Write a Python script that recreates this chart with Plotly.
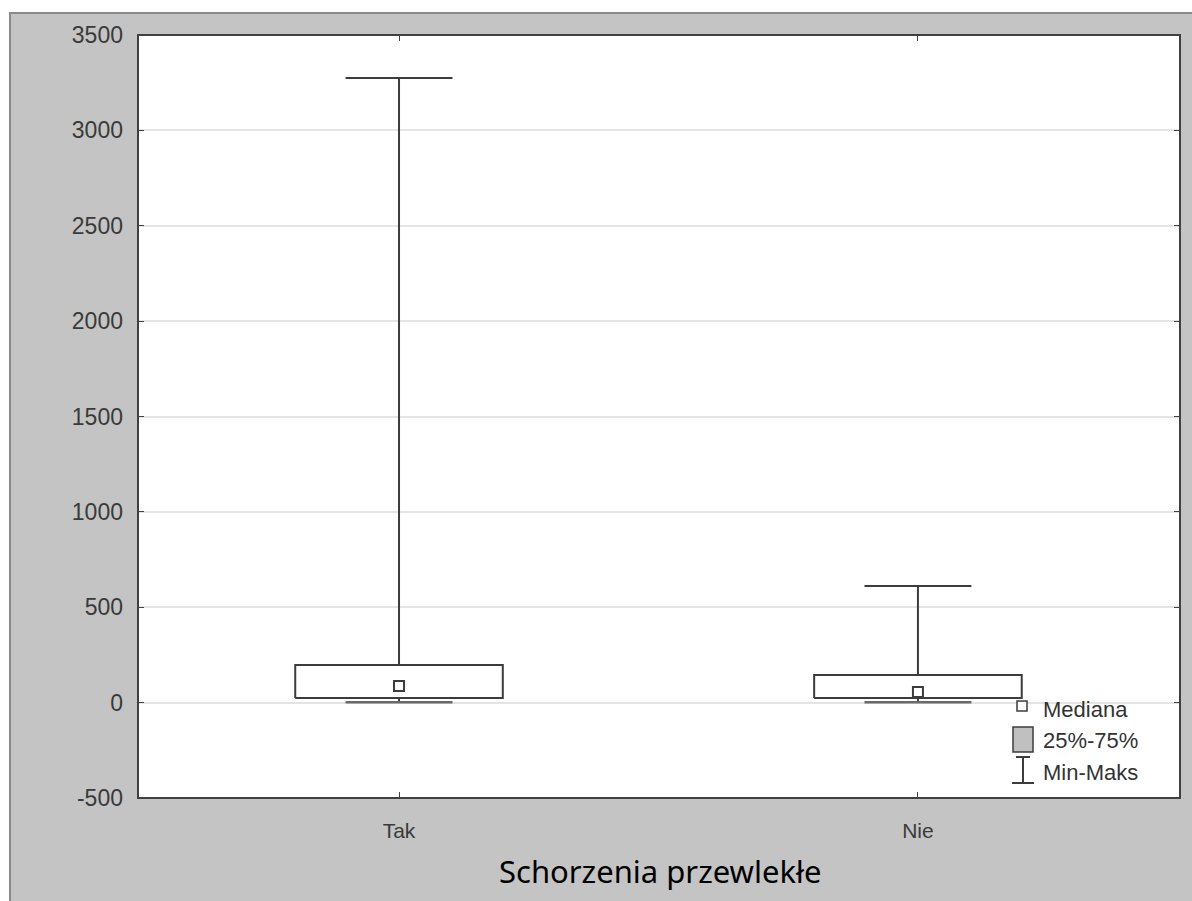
import plotly.graph_objects as go

categories = ["Tak", "Nie"]
mins = [2, 2]
q1 = [24, 24]
medians = [87, 56]
q3 = [197, 145]
maxs = [3275, 611]

yticks = [-500, 0, 500, 1000, 1500, 2000, 2500, 3000, 3500]
ytick_text = ["-500", "0", "500", "1000", "1500", "2000", "2500", "3000", "3500"]
legend_labels = ["Mediana", "25%-75%", "Min-Maks"]

W, H = 1192, 901
L, R, T, B = 138, 12, 35, 103
pw, ph = W - L - R, H - T - B

def px(xpix):
    return (xpix - L) / pw

def py(ypix):
    return (H - B - ypix) / ph

line_col = "#3c3c3c"
box_half = 0.2
cap_half = 0.103

fig = go.Figure()
for i, c in enumerate(categories):
    fig.add_trace(go.Scatter(x=[i, i], y=[q3[i], maxs[i]], mode="lines",
                             line=dict(color=line_col, width=2), showlegend=False, hoverinfo="skip"))
    fig.add_trace(go.Scatter(x=[i, i], y=[mins[i], q1[i]], mode="lines",
                             line=dict(color=line_col, width=2), showlegend=False, hoverinfo="skip"))
    fig.add_trace(go.Scatter(x=[i - cap_half, i + cap_half], y=[maxs[i], maxs[i]], mode="lines",
                             line=dict(color=line_col, width=2), showlegend=False, hoverinfo="skip"))
    fig.add_trace(go.Scatter(x=[i - cap_half, i + cap_half], y=[mins[i], mins[i]], mode="lines",
                             line=dict(color="#6a6a6a", width=2.5), showlegend=False, hoverinfo="skip"))
    fig.add_trace(go.Scatter(x=[i - box_half, i + box_half, i + box_half, i - box_half, i - box_half],
                             y=[q1[i], q1[i], q3[i], q3[i], q1[i]], mode="lines", fill="toself",
                             fillcolor="white", line=dict(color=line_col, width=2),
                             showlegend=False, hoverinfo="skip"))
    fig.add_trace(go.Scatter(x=[i], y=[medians[i]], mode="markers",
                             marker=dict(symbol="square-open", size=10, color=line_col, line=dict(width=2)),
                             showlegend=False, hoverinfo="skip"))

shapes = []
shapes.append(dict(type="rect", xref="paper", yref="paper", x0=px(10), x1=px(1200), y0=py(910), y1=py(13),
                   fillcolor="#c4c4c4", line=dict(color="#8a8a8a", width=2), layer="below"))
shapes.append(dict(type="rect", xref="paper", yref="paper", x0=0, x1=1, y0=0, y1=1,
                   fillcolor="white", line=dict(width=0), layer="below"))
shapes.append(dict(type="rect", xref="paper", yref="paper", x0=px(1017), x1=px(1027), y0=py(711), y1=py(701),
                   fillcolor="white", line=dict(color=line_col, width=1.5)))
shapes.append(dict(type="rect", xref="paper", yref="paper", x0=px(1013), x1=px(1033), y0=py(752), y1=py(727),
                   fillcolor="#c0c0c0", line=dict(color=line_col, width=1.5)))
shapes.append(dict(type="line", xref="paper", yref="paper", x0=px(1016), x1=px(1030), y0=py(757), y1=py(757),
                   line=dict(color=line_col, width=2)))
shapes.append(dict(type="line", xref="paper", yref="paper", x0=px(1023), x1=px(1023), y0=py(757), y1=py(783),
                   line=dict(color=line_col, width=2)))
shapes.append(dict(type="line", xref="paper", yref="paper", x0=px(1012), x1=px(1034), y0=py(783), y1=py(783),
                   line=dict(color=line_col, width=2)))
shapes.append(dict(type="rect", xref="paper", yref="paper", x0=0, x1=1, y0=0, y1=1,
                   line=dict(color="#404040", width=2)))

annotations = []
for lab, yy in zip(legend_labels, [709, 740, 772]):
    annotations.append(dict(xref="paper", yref="paper", x=px(1041), y=py(yy), text=lab, showarrow=False,
                            xanchor="left", yanchor="middle",
                            font=dict(family="Liberation Sans, Arial", size=22, color="#333333")))
annotations.append(dict(xref="paper", yref="paper", x=px(660), y=py(871), text="Schorzenia przewlekłe",
                        showarrow=False, xanchor="center", yanchor="middle",
                        font=dict(family="Noto Sans, Open Sans", size=31, color="#000000")))

fig.update_layout(
    width=W, height=H,
    margin=dict(l=L, r=R, t=T, b=B),
    paper_bgcolor="white", plot_bgcolor="rgba(0,0,0,0)",
    shapes=shapes, annotations=annotations, showlegend=False,
)
fig.update_xaxes(range=[-0.503, 1.505], tickvals=list(range(len(categories))), ticktext=categories,
                 ticks="inside", ticklen=6, tickcolor="#404040", mirror="ticks", showgrid=False,
                 zeroline=False, showline=False, ticklabelstandoff=18,
                 tickfont=dict(family="Liberation Sans, Arial", size=21, color="#3a3a3a"))
fig.update_yaxes(range=[-500, 3500], tickvals=yticks, ticktext=ytick_text, ticks="inside", ticklen=6,
                 tickcolor="#404040", mirror="ticks", showgrid=True, gridcolor="#e4e4e4", gridwidth=1.5,
                 zeroline=False, showline=False, ticklabelstandoff=14,
                 tickfont=dict(family="Liberation Sans, Arial", size=23, color="#3a3a3a"))

fig.write_html("out.html")
